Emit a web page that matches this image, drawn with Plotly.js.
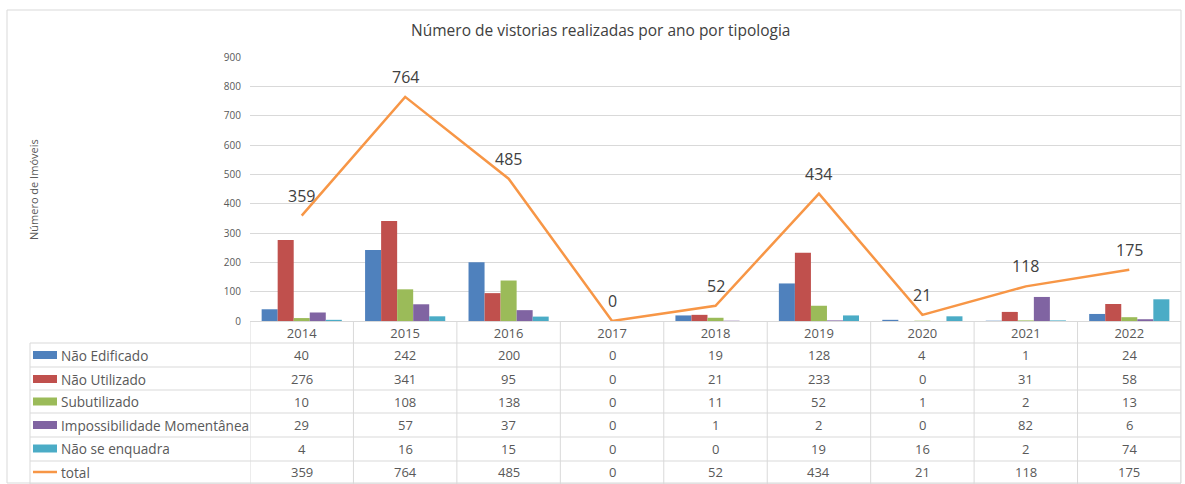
<!DOCTYPE html>
<html>
<head>
<meta charset="utf-8">
<script src="https://cdn.plot.ly/plotly-3.0.1.min.js"></script>
<style>html,body{margin:0;padding:0;background:#fff;}#chart{width:1185px;height:484px;}</style>
</head>
<body>
<div id="chart"></div>
<script>
// ---- data ----
const years = ['2014','2015','2016','2017','2018','2019','2020','2021','2022'];
const naoEdificado = [40, 242, 200, 0, 19, 128, 4, 1, 24];
const naoUtilizado = [276, 341, 95, 0, 21, 233, 0, 31, 58];
const subutilizado = [10, 108, 138, 0, 11, 52, 1, 2, 13];
const impossibilidade = [29, 57, 37, 0, 1, 2, 0, 82, 6];
const naoSeEnquadra = [4, 16, 15, 0, 0, 19, 16, 2, 74];
const total = [359, 764, 485, 0, 52, 434, 21, 118, 175];
const seriesNames = ['Não Edificado','Não Utilizado','Subutilizado','Impossibilidade Momentânea','Não se enquadra','total'];

// ---- styling ----
const colors = ['#4F81BD','#C0504D','#9BBB59','#8064A2','#4BACC6','#F79646'];
const seriesData = [naoEdificado, naoUtilizado, subutilizado, impossibilidade, naoSeEnquadra, total];
const W = 1185, H = 484, L = 250, R = 4, T = 57, B = 163;
const plotW = W - L - R, plotH = H - T - B;
const px = p => (p - L) / plotW;      // pixel x -> paper x
const py = p => (H - B - p) / plotH;  // pixel y -> paper y
const txt = '#595959';
const grid = '#d9d9d9';
const font = 'Open Sans, Noto Sans, sans-serif';

const traces = [];
for (let s = 0; s < 5; s++) {
  traces.push({type:'bar', x: years, y: seriesData[s], name: seriesNames[s],
    marker:{color: colors[s]}, hoverinfo:'skip'});
}
traces.push({type:'scatter', mode:'lines', x: years, y: total, name:'total',
  line:{color: colors[5], width: 2.5}, hoverinfo:'skip'});

const shapes = [];
const annotations = [];
// outer border
shapes.push({type:'rect', xref:'paper', yref:'paper', x0: px(7), x1: px(1181), y0: py(10), y1: py(483),
  line:{color: grid, width:1}, fillcolor:'rgba(0,0,0,0)', layer:'below'});

// table geometry
const rowLines = [343, 367, 390, 413, 437, 461, 484];
const rowCenters = [355, 379, 401.5, 425, 448.5, 472];
rowLines.forEach(y => shapes.push({type:'line', xref:'paper', yref:'paper', x0: px(30), x1: 1, y0: py(y), y1: py(y), line:{color: grid, width:1}}));
for (let k = 0; k <= years.length; k++) {
  shapes.push({type:'line', xref:'x', yref:'paper', x0: k - 0.5, x1: k - 0.5, y0: 0, y1: py(484), line:{color: grid, width:1}});
}
shapes.push({type:'line', xref:'paper', yref:'paper', x0: px(30), x1: px(30), y0: py(343), y1: py(484), line:{color: grid, width:1}});

// legend swatches, labels and table values
for (let s = 0; s < 6; s++) {
  const yc = rowCenters[s];
  if (s < 5) {
    shapes.push({type:'rect', xref:'paper', yref:'paper', x0: px(33), x1: px(57), y0: py(yc - 4), y1: py(yc + 4),
      fillcolor: colors[s], line:{width:0}});
  } else {
    shapes.push({type:'line', xref:'paper', yref:'paper', x0: px(33), x1: px(57), y0: py(yc), y1: py(yc),
      line:{color: colors[s], width:2.5}});
  }
  annotations.push({xref:'paper', yref:'paper', x: px(59), y: py(yc), xanchor:'left', yanchor:'middle',
    text: seriesNames[s], showarrow:false, font:{family: font, size:13.6, color: txt}});
  for (let i = 0; i < years.length; i++) {
    annotations.push({xref:'x', yref:'paper', x: i, y: py(yc), xanchor:'center', yanchor:'middle',
      text: String(seriesData[s][i]), showarrow:false, font:{family: font, size:13, color: txt}});
  }
}
// line data labels
for (let i = 0; i < years.length; i++) {
  annotations.push({xref:'x', yref:'y', x: i, y: total[i], yshift: 20, xanchor:'center', yanchor:'middle',
    text: String(total[i]), showarrow:false, font:{family: font, size:16, color:'#404040'}});
}
// y axis title
annotations.push({xref:'paper', yref:'paper', x: px(33), y: py(190), xanchor:'center', yanchor:'middle',
  text:'Número de Imóveis', textangle:-90, showarrow:false, font:{family: font, size:11, color: txt}});

const layout = {
  width: W, height: H,
  margin:{l: L, r: R, t: T, b: B, pad:0},
  paper_bgcolor:'#fff', plot_bgcolor:'#fff',
  title:{text:'Número de vistorias realizadas por ano por tipologia', x:0.507, xanchor:'center',
    y: 1 - 31/H, yanchor:'middle', yref:'container', font:{family: font, size:15.5, color:'#404040'}},
  barmode:'group', bargap:0.225, bargroupgap:0,
  showlegend:false, hovermode:false,
  xaxis:{type:'category', range:[-0.5, 8.5], showgrid:false, zeroline:false, showline:true, linecolor: grid, linewidth:1,
    ticks:'', tickfont:{family: font, size:13, color: txt}, fixedrange:true},
  yaxis:{range:[0, 900], dtick:100, showgrid:true, gridcolor: grid, gridwidth:1, zeroline:false, showline:false,
    ticks:'outside', ticklen:6, tickcolor:'rgba(0,0,0,0)', tickfont:{family: font, size:10, color: txt}, fixedrange:true},
  shapes: shapes,
  annotations: annotations
};
Plotly.newPlot('chart', traces, layout, {displayModeBar:false, staticPlot:true});
</script>
</body>
</html>
